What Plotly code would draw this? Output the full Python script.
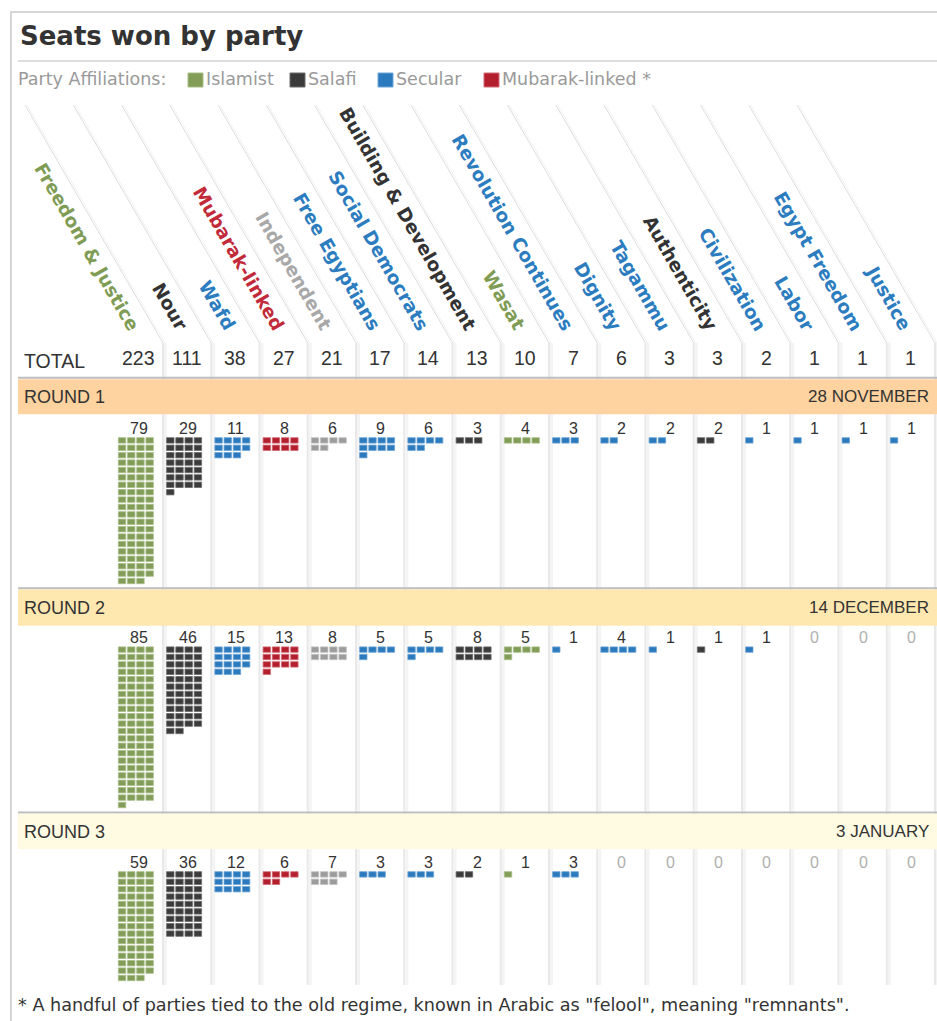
import plotly.graph_objects as go

# ---------------- data ----------------
parties = ["Freedom & Justice", "Nour", "Wafd", "Mubarak-linked", "Independent",
           "Free Egyptians", "Social Democrats", "Building & Development", "Wasat",
           "Revolution Continues", "Dignity", "Tagammu", "Authenticity",
           "Civilization", "Labor", "Egypt Freedom", "Justice"]
affiliation = ["Islamist", "Salafi", "Secular", "Mubarak-linked", "Independent",
               "Secular", "Secular", "Salafi", "Islamist", "Secular", "Secular",
               "Secular", "Salafi", "Secular", "Secular", "Secular", "Secular"]
round1 = [79, 29, 11, 8, 6, 9, 6, 3, 4, 3, 2, 2, 2, 1, 1, 1, 1]
round2 = [85, 46, 15, 13, 8, 5, 5, 8, 5, 1, 4, 1, 1, 1, 0, 0, 0]
round3 = [59, 36, 12, 6, 7, 3, 3, 2, 1, 3, 0, 0, 0, 0, 0, 0, 0]
round_names = ["ROUND 1", "ROUND 2", "ROUND 3"]
round_dates = ["28 NOVEMBER", "14 DECEMBER", "3 JANUARY"]
legend_labels = ["Islamist", "Salafi", "Secular", "Mubarak-linked *"]
legend_keys = ["Islamist", "Salafi", "Secular", "Mubarak-linked"]
footnote = ('* A handful of parties tied to the old regime, known in Arabic as '
            '"felool", meaning "remnants".')
rounds = [round1, round2, round3]
totals = [a + b + c for a, b, c in zip(round1, round2, round3)]

# ---------------- styles ----------------
fill_col = {"Islamist": "#819d58", "Salafi": "#3b3b3b", "Secular": "#2a7abd",
            "Mubarak-linked": "#b41f2e", "Independent": "#9c9c9c"}
edge_col = {"Islamist": "#a7bd86", "Salafi": "#6a6a6a", "Secular": "#6fa5d6",
            "Mubarak-linked": "#d26a74", "Independent": "#c2c2c2"}
label_col = {"Islamist": "#7f9c55", "Salafi": "#333333", "Secular": "#2c7cc0",
             "Mubarak-linked": "#c22a3a", "Independent": "#a8a8a8"}
band_col = ["#ffd39f", "#ffe8b0", "#fffbe3"]

W, H = 937, 1021
COL0, COLW = 114.75, 48.25
band_top = [379.3, 589.5, 813.8]
band_bot = [414.3, 625.8, 849.3]
num_y = [428.0, 637.0, 862.0]
sq_top = [437.7, 646.9, 871.7]
PX, PY, SW, SH = 9.2, 7.4, 7.4, 5.4
SEP_TOP, SEP_BOT = 343, 985
DIAG_TOP, DIAG_DX = 105, 138

fig = go.Figure()
shapes = []
annos = []

def rect(x0, y0, x1, y1, fill, line=None, lw=0):
    d = dict(type="rect", xref="x", yref="y", x0=x0, y0=y0, x1=x1, y1=y1,
             fillcolor=fill, line=dict(width=lw, color=line or fill))
    shapes.append(d)

def line(x0, y0, x1, y1, color, w):
    shapes.append(dict(type="line", xref="x", yref="y", x0=x0, y0=y0, x1=x1, y1=y1,
                       line=dict(color=color, width=w)))

def text(x, y, s, size, color, xa="left", ya="middle", family="DejaVu Sans", angle=0):
    annos.append(dict(x=x, y=y, xref="x", yref="y", text=s, showarrow=False,
                      xanchor=xa, yanchor=ya, textangle=angle,
                      font=dict(size=size, color=color, family=family)))

# outer frame
rect(11, 12, 960, 1040, "rgba(0,0,0,0)", "#d6d6d6", 2)
# title + rule
text(18, 36, "<b>Seats won by party</b>", 26, "#333333")
line(18, 61, W, 61, "#dedede", 2)

# legend
text(16, 79, "Party Affiliations:", 17.5, "#9a9a9a")
leg_x = [188, 290, 378, 484]
for lx, lab, key in zip(leg_x, legend_labels, legend_keys):
    rect(lx, 73, lx + 15, 87, fill_col[key], edge_col[key], 1)
    text(lx + 16, 79, lab, 17.5, "#9a9a9a")

n = len(parties)
col_left = [COL0 + i * COLW for i in range(n)]
col_ctr = [c + COLW / 2 for c in col_left]

# column separators (soft gradient strips) and diagonal guides
for k in range(1, n + 1):
    xb = COL0 + k * COLW
    rect(xb - 1, SEP_TOP, xb + 1, SEP_BOT, "#e8e8e8")
    rect(xb + 1, SEP_TOP, xb + 4, SEP_BOT, "#f4f4f4")
    line(xb - DIAG_DX, DIAG_TOP, xb, SEP_TOP, "#dddddd", 1)
    line(xb - DIAG_DX + 2, DIAG_TOP, xb + 2, SEP_TOP, "#f2f2f2", 1)

# party labels (rotated)
for i, p in enumerate(parties):
    text(col_ctr[i] + 7, 337, "<b>" + p + "</b>", 18.5, label_col[affiliation[i]],
         xa="right", ya="bottom", angle=60)

# total row
text(22, 361, "TOTAL", 19.5, "#333333", family="Liberation Sans")
for i, t in enumerate(totals):
    text(col_ctr[i], 357.5, str(t), 19.5, "#333333", xa="center", family="Liberation Sans")

# round bands and squares
line_y = [377.8, 588.3, 812.6]
for r in range(3):
    line(18, line_y[r], W, line_y[r], "#bdbdbd", 2)
    rect(18, band_top[r], W, band_bot[r], band_col[r])
    mid = (band_top[r] + band_bot[r]) / 2
    text(22, mid, round_names[r], 18, "#333333", family="Liberation Sans")
    text(931, mid, round_dates[r], 17, "#333333", xa="right", family="Liberation Sans")
    vals = rounds[r]
    for i, v in enumerate(vals):
        key = affiliation[i]
        text(col_ctr[i] + 0.5, num_y[r], str(v), 16,
             "#333333" if v > 0 else "#b0b0b0", xa="center", family="Liberation Sans")
        bx0 = col_left[i] + 3.6
        for s in range(v):
            row, c = divmod(s, 4)
            x0 = bx0 + c * PX
            y0 = sq_top[r] + row * PY
            rect(x0, y0, x0 + SW, y0 + SH, fill_col[key], edge_col[key], 0.8)

# footnote
text(16, 1005, footnote, 17.6, "#333333")

fig.update_layout(
    width=W, height=H, margin=dict(l=0, r=0, t=0, b=0),
    paper_bgcolor="white", plot_bgcolor="white",
    xaxis=dict(range=[0, W], visible=False, fixedrange=True),
    yaxis=dict(range=[H, 0], visible=False, fixedrange=True),
    shapes=shapes, annotations=annos, showlegend=False,
)
fig.write_html("out.html", config={"displayModeBar": False},
               post_script="document.body.style.margin='0';document.body.style.overflow='hidden';")
